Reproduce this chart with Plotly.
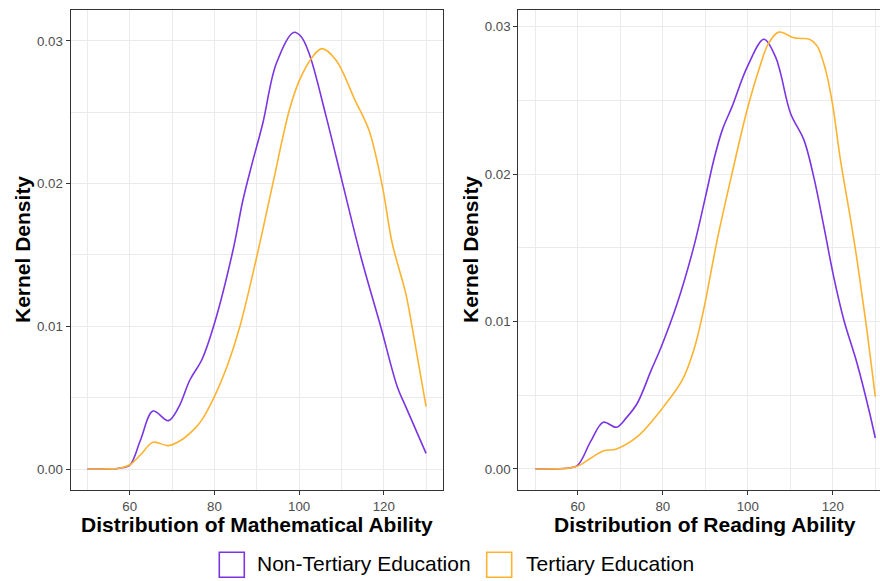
import plotly.graph_objects as go

# Kernel density estimates, read at irregular score positions
math_x_non = [50, 55, 57.5, 60, 62.5, 65.5, 69.1, 71.5, 74.2, 77.0, 80, 84.4, 86.7, 88.8,
              91.4, 94.6, 98.7, 100.5, 102.4, 106.4, 110.3, 114.6, 119.3, 123.2, 125.2, 130]
math_y_non = [0, 0.00001, 0.00006, 0.00028, 0.0020, 0.00406, 0.00339, 0.0043, 0.00624,
              0.00764, 0.0102, 0.01535, 0.0188, 0.0213, 0.0242, 0.0284, 0.0306, 0.0303,
              0.0291, 0.0247, 0.0200, 0.01488, 0.00997, 0.00577, 0.00437, 0.0011]

math_x_ter = [50, 55, 57.5, 60, 62.5, 65.5, 69.1, 72, 75.4, 77, 80, 83, 86, 90, 93.8, 97.7,
              100.1, 103.2, 105.4, 108.7, 113.2, 116.5, 119.7, 122, 125.2, 126.7, 130]
math_y_ter = [0, 0.00001, 0.00006, 0.0003, 0.00098, 0.00187, 0.00164, 0.0020, 0.00285,
              0.00343, 0.00507, 0.0072, 0.00997, 0.01488, 0.0200, 0.02516, 0.02726, 0.0289,
              0.02946, 0.02866, 0.02586, 0.02376, 0.01978, 0.01582, 0.01231, 0.00997, 0.00437]

read_x_non = [50, 55, 57.5, 60, 63, 66, 69.1, 71.5, 74, 77.3, 79.5, 83.4, 87.3, 90.05, 92,
              94, 96.3, 99.9, 103.8, 106.5, 107.7, 110.05, 113.2, 115.5, 117.9, 120.2,
              122.6, 125.7, 128.5, 130]
read_y_non = [0, 0.00001, 0.00005, 0.00027, 0.00185, 0.00317, 0.00283, 0.0035, 0.00446,
              0.00672, 0.00819, 0.01124, 0.01508, 0.01847, 0.02096, 0.023, 0.02458, 0.02729,
              0.02915, 0.02797, 0.02685, 0.02413, 0.02232, 0.01983, 0.01644, 0.01305,
              0.01011, 0.00717, 0.0040, 0.0021]

read_x_ter = [50, 55, 57.5, 60, 63, 66, 69.1, 74, 80.2, 84.6, 87.3, 89.6, 92.8, 96.3, 99.85,
              102.6, 104.9, 107.3, 110.8, 112.5, 114.5, 116.3, 118.3, 119.9, 121.8, 124.2,
              125.7, 127.7, 130]
read_y_ter = [0, 0.00001, 0.00004, 0.0002, 0.00073, 0.00122, 0.00136, 0.00219, 0.00423,
              0.00604, 0.00807, 0.01079, 0.01554, 0.02006, 0.02436, 0.02707, 0.02888,
              0.02963, 0.02925, 0.0292, 0.02915, 0.0287, 0.02707, 0.02481, 0.02096,
              0.01689, 0.01418, 0.01011, 0.0049]

group_names = ["Non-Tertiary Education", "Tertiary Education"]
x_ticks = [60, 80, 100, 120]
x_minor = [50, 70, 90, 110, 130]
y_ticks = [0, 0.01, 0.02, 0.03]
y_minor = [0.005, 0.015, 0.025]

PURPLE = "#7B35E2"
ORANGE = "#FDB32F"
FONT = "Liberation Sans, Arial, sans-serif"
W, H = 880, 581

fig = go.Figure()
series = [
    (math_x_non, math_y_non, PURPLE, "x", "y"),
    (math_x_ter, math_y_ter, ORANGE, "x", "y"),
    (read_x_non, read_y_non, PURPLE, "x2", "y2"),
    (read_x_ter, read_y_ter, ORANGE, "x2", "y2"),
]
for xs, ys, col, xa, ya in series:
    fig.add_trace(go.Scatter(
        x=xs, y=ys, mode="lines", xaxis=xa, yaxis=ya, showlegend=False,
        line=dict(color=col, width=1.6, shape="spline", smoothing=1.0),
        hoverinfo="x+y",
    ))

GRID = "#EBEBEB"
TICKFONT = dict(family=FONT, size=13.3, color="#4D4D4D")
common_x = dict(
    tickvals=x_ticks, ticks="outside", ticklen=4, tickwidth=1, tickcolor="#333333",
    tickfont=TICKFONT,
    showgrid=True, gridcolor=GRID, gridwidth=1.1, zeroline=False,
    minor=dict(tickvals=x_minor, showgrid=True, gridcolor=GRID, gridwidth=0.6),
    showline=True, linecolor="#333333", linewidth=1, mirror=True,
    ticklabelstandoff=0,
)
common_y = dict(
    tickvals=y_ticks, tickformat=".2f", ticks="outside", ticklen=4, tickwidth=1,
    tickcolor="#333333", tickfont=TICKFONT,
    showgrid=True, gridcolor=GRID, gridwidth=1.1, zeroline=False,
    minor=dict(tickvals=y_minor, showgrid=True, gridcolor=GRID, gridwidth=0.6),
    showline=True, linecolor="#333333", linewidth=1,
    ticklabelstandoff=0,
)

y_dom = [1 - 490 / H, 1 - 10 / H]
fig.update_layout(
    width=W, height=H, margin=dict(l=0, r=0, t=0, b=0),
    paper_bgcolor="white", plot_bgcolor="white",
    font=dict(family=FONT),
    xaxis=dict(domain=[70.5 / W, 443 / W], range=[46, 134], anchor="y", **common_x),
    yaxis=dict(domain=y_dom, range=[-0.00147, 0.03217], anchor="x", mirror=True, **common_y),
    xaxis2=dict(domain=[518.3 / W, 1.0], range=[46, 46 + (W - 518.3) / 4.25], anchor="y2", **common_x),
    yaxis2=dict(domain=y_dom, range=[-0.001425, 0.03113], anchor="x2", mirror=False, **common_y),
)

title_font = dict(family=FONT, size=21, color="black")
annotations = [
    dict(text="<b>Distribution of Mathematical Ability</b>", x=257 / W, y=1 - 524 / H),
    dict(text="<b>Distribution of Reading Ability</b>", x=704.7 / W, y=1 - 524 / H),
    dict(text="<b>Kernel Density</b>", x=22 / W, y=1 - 250 / H, textangle=-90),
    dict(text="<b>Kernel Density</b>", x=470 / W, y=1 - 250 / H, textangle=-90),
    dict(text=group_names[0], x=255 / W, y=1 - 563 / H, xanchor="left"),
    dict(text=group_names[1], x=524 / W, y=1 - 563 / H, xanchor="left"),
]
for a in annotations:
    a.setdefault("xanchor", "center")
    fig.add_annotation(xref="paper", yref="paper", yanchor="middle", showarrow=False,
                       font=title_font, **a)

# legend keys: outlined squares
for x0, col in [(219.3, PURPLE), (486.7, ORANGE)]:
    fig.add_shape(type="rect", xref="paper", yref="paper",
                  x0=x0 / W, x1=(x0 + 25) / W, y0=1 - 577.3 / H, y1=1 - 552.3 / H,
                  line=dict(color=col, width=1.6), fillcolor="rgba(0,0,0,0)")

fig.write_html("out.html")
